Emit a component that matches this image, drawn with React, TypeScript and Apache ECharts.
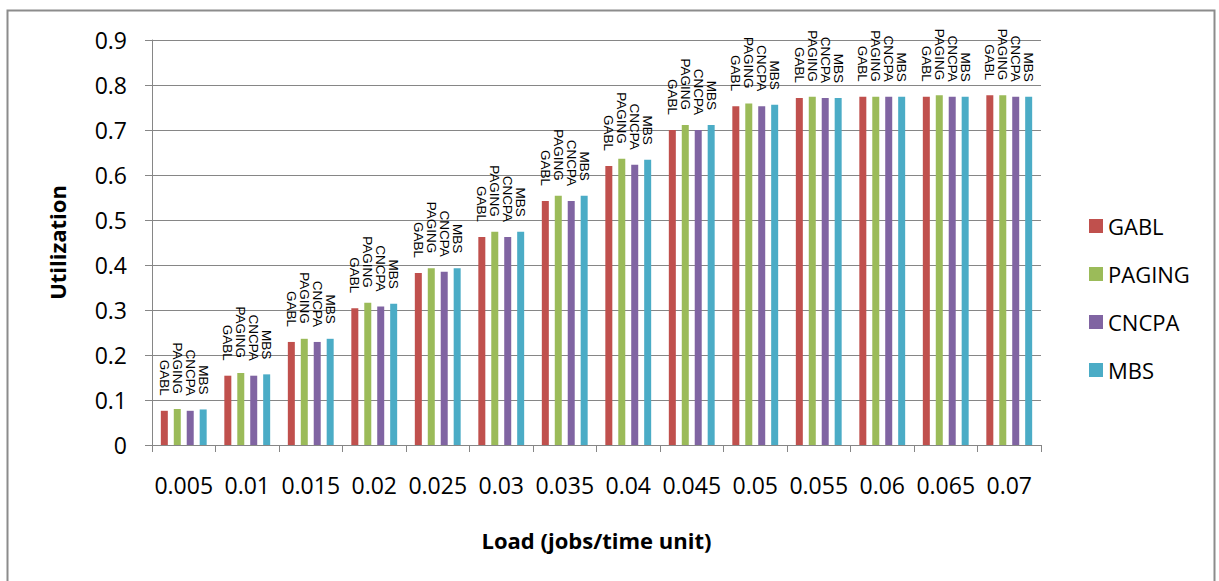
import React, { useEffect, useRef } from "react";
import * as echarts from "echarts";

const categories = ["0.005", "0.01", "0.015", "0.02", "0.025", "0.03", "0.035", "0.04", "0.045", "0.05", "0.055", "0.06", "0.065", "0.07"];
const seriesNames = ["GABL", "PAGING", "CNCPA", "MBS"];
const gabl = [0.076, 0.154, 0.229, 0.304, 0.382, 0.462, 0.542, 0.620, 0.700, 0.753, 0.771, 0.774, 0.774, 0.777];
const paging = [0.080, 0.160, 0.236, 0.316, 0.393, 0.474, 0.554, 0.636, 0.711, 0.759, 0.774, 0.774, 0.777, 0.777];
const cncpa = [0.076, 0.154, 0.229, 0.308, 0.385, 0.462, 0.542, 0.623, 0.700, 0.753, 0.771, 0.774, 0.774, 0.774];
const mbs = [0.079, 0.157, 0.236, 0.314, 0.393, 0.474, 0.554, 0.634, 0.711, 0.756, 0.771, 0.774, 0.774, 0.774];
const colors = ["#C0504D", "#9BBB59", "#8064A2", "#4BACC6"];
const yTicks = [0, 0.1, 0.2, 0.3, 0.4, 0.5, 0.6, 0.7, 0.8, 0.9];

export default function App() {
  const ref = useRef<HTMLDivElement>(null);
  useEffect(() => {
    if (!ref.current) return;
    const chart = echarts.init(ref.current, null, { renderer: "svg" });
    const data = [gabl, paging, cncpa, mbs];
    const axisGray = "#868686";
    chart.setOption({
      animation: false,
      backgroundColor: "#ffffff",
      graphic: [
        {
          type: "rect",
          shape: { x: 7.5, y: 10.5, width: 1207, height: 600 },
          style: { fill: "none", stroke: "#8c8c8c", lineWidth: 2 },
          silent: true,
        },
      ],
      grid: { left: 152, right: 1219 - 1041, top: 40, bottom: 581 - 445, containLabel: false },
      legend: {
        orient: "vertical",
        left: 1084,
        top: 210,
        itemWidth: 14,
        itemHeight: 14,
        itemGap: 26,
        icon: "rect",
        data: seriesNames,
        textStyle: { fontFamily: "Open Sans", fontSize: 22, color: "#000", lineHeight: 22 },
      },
      xAxis: {
        type: "category",
        data: categories,
        boundaryGap: true,
        name: "Load (jobs/time unit)",
        nameLocation: "middle",
        nameGap: 84,
        nameTextStyle: { fontFamily: "Open Sans", fontWeight: "bold", fontSize: 22, color: "#000" },
        axisLine: { lineStyle: { color: axisGray, width: 1 } },
        axisTick: { show: true, length: 7, lineStyle: { color: axisGray } },
        axisLabel: { interval: 0, margin: 28, fontFamily: "Open Sans", fontSize: 23, color: "#000" },
      },
      yAxis: {
        type: "value",
        min: 0,
        max: 0.9,
        interval: 0.1,
        name: "Utilization",
        nameLocation: "middle",
        nameGap: 84,
        nameTextStyle: { fontFamily: "Open Sans", fontWeight: "bold", fontSize: 22, color: "#000" },
        axisLine: { show: true, lineStyle: { color: axisGray, width: 1 } },
        axisTick: { show: true, length: 7, lineStyle: { color: axisGray } },
        splitLine: { show: true, lineStyle: { color: axisGray, width: 1 } },
        axisLabel: {
          margin: 25,
          fontFamily: "Open Sans",
          fontSize: 23,
          color: "#000",
          formatter: (v: number) => {
            const t = yTicks.find((x) => Math.abs(x - v) < 1e-9);
            return t === undefined ? "" : t === 0 ? "0" : t.toFixed(1);
          },
        },
      },
      series: seriesNames.map((name, i) => ({
        name,
        type: "bar",
        data: data[i],
        barWidth: 7,
        barGap: "85%",
        itemStyle: { color: colors[i] },
        label: {
          show: true,
          position: "top",
          distance: 15,
          rotate: -90,
          align: "right",
          verticalAlign: "middle",
          formatter: "{a}",
          fontFamily: "Liberation Sans",
          fontSize: 13.5,
          color: "#000",
        },
      })),
    });
    return () => chart.dispose();
  }, []);
  return (
    <div
      ref={ref}
      style={{ position: "absolute", left: 0, top: 0, width: 1219, height: 581 }}
    />
  );
}
